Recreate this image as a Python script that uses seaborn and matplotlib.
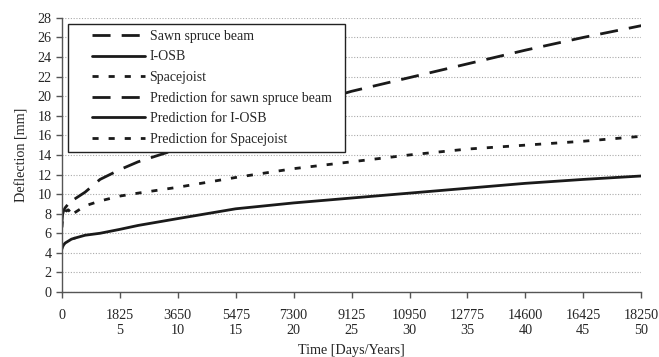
import pandas as pd
import seaborn as sns
import matplotlib.pyplot as plt
from matplotlib.patches import Rectangle

meas_days = [0, 20, 50, 100, 200, 300, 400]
meas_spruce = [7.2, 7.9, 8.3, 8.6, 9.0, 9.3, 9.5]
meas_iosb = [4.4, 4.6, 4.8, 5.0, 5.2, 5.4, 5.5]
meas_space = [6.6, 7.4, 7.8, 8.2, 8.4, 8.0, 8.1]

pred_days = [400, 730, 1200, 1825, 2400, 3650, 5475, 7300, 9125,
             10950, 12775, 14600, 16425, 18250]
pred_spruce = [9.5, 10.2, 11.5, 12.5, 13.3, 14.6, 16.8, 18.8, 20.5,
               21.9, 23.3, 24.7, 26.0, 27.2]
pred_iosb = [5.5, 5.8, 6.0, 6.4, 6.8, 7.5, 8.5, 9.1, 9.6,
             10.1, 10.6, 11.1, 11.5, 11.85]
pred_space = [8.1, 8.8, 9.3, 9.8, 10.1, 10.7, 11.7, 12.6, 13.3,
              14.0, 14.6, 15.0, 15.4, 15.9]

x_ticks = [0, 1825, 3650, 5475, 7300, 9125, 10950, 12775, 14600, 16425, 18250]
year_labels = ["", "5", "10", "15", "20", "25", "30", "35", "40", "45", "50"]

names = ["Sawn spruce beam", "I-OSB", "Spacejoist",
         "Prediction for sawn spruce beam", "Prediction for I-OSB",
         "Prediction for Spacejoist"]
series = [(meas_days, meas_spruce), (meas_days, meas_iosb), (meas_days, meas_space),
          (pred_days, pred_spruce), (pred_days, pred_iosb), (pred_days, pred_space)]

rows = []
for name, (d, v) in zip(names, series):
    for xi, yi in zip(d, v):
        rows.append({"series": name, "day": xi, "defl": yi})
df = pd.DataFrame(rows)

long_dash = (6.5, 4.0)
short_dash = (2.2, 3.6)
dashes = {names[0]: long_dash, names[1]: "", names[2]: short_dash,
          names[3]: long_dash, names[4]: "", names[5]: short_dash}

sns.set_style("white")
plt.rcParams["font.family"] = ["Liberation Serif", "DejaVu Serif"]
plt.rcParams["font.size"] = 10

fig = plt.figure(figsize=(6.59, 3.57), dpi=100)
ax = fig.add_axes([0.094, 0.182, 0.879, 0.768])

sns.lineplot(data=df, x="day", y="defl", hue="series", style="series",
             hue_order=names, style_order=names,
             palette=["#1a1a1a"] * 6, dashes=dashes, linewidth=2.0,
             sort=False, ax=ax)

ax.set_xlim(0, 18250)
ax.set_ylim(0, 28)
ax.set_yticks(range(0, 29, 2))
ax.set_xticks(x_ticks)
ax.set_xticklabels([f"{d}\n{y}" for d, y in zip(x_ticks, year_labels)])
ax.yaxis.grid(True, linestyle=(0, (1, 1.5)), color="#aaaaaa", linewidth=0.8)
ax.xaxis.grid(False)
ax.set_axisbelow(True)
for s in ["top", "right"]:
    ax.spines[s].set_visible(False)
for s in ["left", "bottom"]:
    ax.spines[s].set_color("#555555")
    ax.spines[s].set_linewidth(1.0)
ax.tick_params(axis="both", direction="out", length=4, width=1,
               color="#555555", labelsize=10.2, bottom=True, left=True)
ax.tick_params(axis="x", pad=8)
ax.set_xlabel("Time [Days/Years]", fontsize=10.2, labelpad=5)
ax.set_ylabel("Deflection [mm]", fontsize=10.2, labelpad=6)

# legend box drawn separately so the inner padding matches the original
ax.add_patch(Rectangle((0.0104, 0.511), 0.478, 0.467, transform=ax.transAxes,
                       facecolor="white", edgecolor="#222222", linewidth=1.0,
                       zorder=4))
leg = ax.legend(loc="upper left", bbox_to_anchor=(0.0518, 0.955),
                frameon=False, handlelength=3.8, handletextpad=0.35,
                labelspacing=0.52, borderpad=0, borderaxespad=0, fontsize=10)
leg.set_zorder(5)

plt.savefig("out.png", dpi=100)
